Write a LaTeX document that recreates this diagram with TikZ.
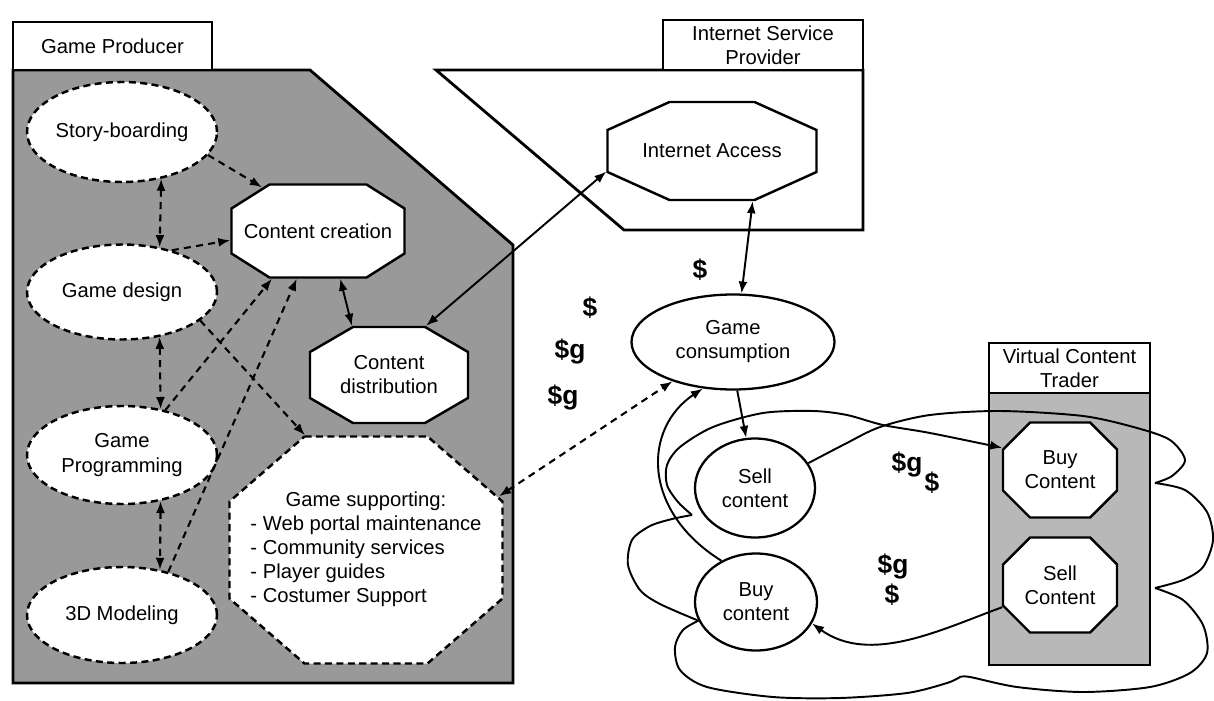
\documentclass[tikz,border=0pt]{standalone}
\usepackage{fontspec}
\setmainfont{Liberation Sans}
\usetikzlibrary{shapes.geometric, arrows, arrows.meta}

\makeatletter
\pgfkeys{/pgf/octagon xcut/.initial=5mm, /pgf/octagon ycut/.initial=5mm}
\pgfdeclareshape{octagonbox}{%
  \inheritsavedanchors[from=rectangle]
  \inheritanchor[from=rectangle]{center}
  \inheritanchor[from=rectangle]{north}
  \inheritanchor[from=rectangle]{south}
  \inheritanchor[from=rectangle]{east}
  \inheritanchor[from=rectangle]{west}
  \savedmacro\octcutx{\pgfmathsetlength\pgf@xa{\pgfkeysvalueof{/pgf/octagon xcut}}\edef\octcutx{\the\pgf@xa}}
  \savedmacro\octcuty{\pgfmathsetlength\pgf@ya{\pgfkeysvalueof{/pgf/octagon ycut}}\edef\octcuty{\the\pgf@ya}}
  \backgroundpath{%
    \southwest \pgf@xa=\pgf@x \pgf@ya=\pgf@y
    \northeast \pgf@xb=\pgf@x \pgf@yb=\pgf@y
    \pgfmathsetlength\pgf@xc{\pgfkeysvalueof{/pgf/outer xsep}}%
    \pgfmathsetlength\pgf@yc{\pgfkeysvalueof{/pgf/outer ysep}}%
    \advance\pgf@xa by\pgf@xc \advance\pgf@ya by\pgf@yc
    \advance\pgf@xb by-\pgf@xc \advance\pgf@yb by-\pgf@yc
    \edef\octL{\the\pgf@xa}\edef\octB{\the\pgf@ya}%
    \edef\octR{\the\pgf@xb}\edef\octT{\the\pgf@yb}%
    \pgfpathmoveto{\pgfpoint{\octL+\octcutx}{\octT}}%
    \pgfpathlineto{\pgfpoint{\octR-\octcutx}{\octT}}%
    \pgfpathlineto{\pgfpoint{\octR}{\octT-\octcuty}}%
    \pgfpathlineto{\pgfpoint{\octR}{\octB+\octcuty}}%
    \pgfpathlineto{\pgfpoint{\octR-\octcutx}{\octB}}%
    \pgfpathlineto{\pgfpoint{\octL+\octcutx}{\octB}}%
    \pgfpathlineto{\pgfpoint{\octL}{\octB+\octcuty}}%
    \pgfpathlineto{\pgfpoint{\octL}{\octT-\octcuty}}%
    \pgfpathclose
  }
  \anchorborder{%
    \edef\octdx{\the\pgf@x}\edef\octdy{\the\pgf@y}%
    \southwest \pgf@xa=\pgf@x \pgf@ya=\pgf@y
    \northeast \pgf@xb=\pgf@x \pgf@yb=\pgf@y
    \edef\octmx{\the\dimexpr(\pgf@xa+\pgf@xb)/2\relax}%
    \edef\octmy{\the\dimexpr(\pgf@ya+\pgf@yb)/2\relax}%
    \edef\octW{\the\dimexpr(\pgf@xb-\pgf@xa)/2\relax}%
    \edef\octH{\the\dimexpr(\pgf@yb-\pgf@ya)/2\relax}%
    \pgfmathsetmacro\octax{max(abs(\octdx),0.0001)}%
    \pgfmathsetmacro\octay{max(abs(\octdy),0.0001)}%
    \pgfmathsetmacro\octt{min(min(\octW/\octax,\octH/\octay),(\octcuty*\octW+\octcutx*\octH-\octcutx*\octcuty)/(\octcuty*\octax+\octcutx*\octay))}%
    \pgfmathsetlength\pgf@xc{\octmx+\octt*\octdx}%
    \pgfmathsetlength\pgf@yc{\octmy+\octt*\octdy}%
    \pgf@x=\pgf@xc \pgf@y=\pgf@yc
  }
}
\makeatother

\begin{document}
\begin{tikzpicture}[x=0.2mm, y=-0.2mm,
    font=\fontsize{11.5}{13.7}\selectfont,
    tab/.style={draw, line width=1.4pt, fill=white, inner sep=0pt, align=center},
    task/.style={draw, ellipse, dash pattern=on 4pt off 2.5pt, line width=1.4pt, fill=white, inner sep=0pt, align=center},
    octa/.style={draw, octagonbox, line width=1.4pt, fill=white, inner sep=0pt, align=center},
    oval/.style={draw, ellipse, line width=1.3pt, fill=white, inner sep=0pt, align=center},
    money/.style={font=\fontsize{15}{15}\selectfont\bfseries, inner sep=0pt},
    link/.style={>={Latex[length=2.4mm,width=1.8mm]}, line width=1.1pt},
    dlink/.style={>={Latex[length=2.4mm,width=1.8mm]}, line width=1.2pt, dash pattern=on 4pt off 3pt}]
\useasboundingbox (0,0) rectangle (1214,701);

\draw[line width=1.6pt, fill=black!40] (13,70) -- (310,70) -- (513,245) -- (513,683) -- (13,683) -- cycle;
\draw[line width=1.6pt, fill=white] (436,70) -- (863,70) -- (863,230) -- (624,230) -- cycle;
\draw[line width=1.6pt, fill=black!28] (989,393) rectangle (1150,665);

\node[tab, minimum width=39.8mm, minimum height=9.6mm] (producer) at (112.5,46) {Game Producer};
\node[tab, minimum width=40mm, minimum height=10mm] (isp) at (763,45) {Internet Service\\Provider};
\node[tab, minimum width=32.2mm, minimum height=10mm] (trader) at (1069.5,368) {Virtual Content\\Trader};

\node[task, minimum width=38mm, minimum height=20mm] (storyboarding) at (122,132) {Story-boarding};
\node[task, minimum width=38mm, minimum height=19mm] (gamedesign) at (122,292) {Game design};
\node[task, minimum width=38mm, minimum height=19.6mm] (gameprogramming) at (122,455) {Game\\Programming};
\node[task, minimum width=38mm, minimum height=19.2mm] (modeling) at (122,615) {3D Modeling};

\node[octa, minimum width=34.6mm, minimum height=18.6mm, octagon xcut=7.6mm, octagon ycut=4.8mm] (contentcreation) at (318,231) {Content creation};
\node[octa, minimum width=31.6mm, minimum height=19.2mm, octagon xcut=8.6mm, octagon ycut=5mm] (contentdistribution) at (389,375) {Content\\distribution};
\node[octa, dash pattern=on 4pt off 2.5pt, minimum width=54.6mm, minimum height=45.4mm, octagon xcut=15mm, octagon ycut=13mm] (gamesupport) at (366,550) {\begin{tabular}{@{}l@{}}\multicolumn{1}{@{}c@{}}{Game supporting:}\\- Web portal maintenance\\- Community services\\- Player guides\\- Costumer Support\end{tabular}};
\node[octa, minimum width=41.8mm, minimum height=19.6mm, octagon xcut=12.4mm, octagon ycut=5.6mm] (internetaccess) at (712,151) {Internet Access};

\node[oval, minimum width=40.6mm, minimum height=19mm] (gameconsumption) at (733,342) {Game\\consumption};
\node[oval, minimum width=24mm, minimum height=19.8mm] (sellcontent) at (755,488) {Sell\\content};
\node[oval, minimum width=24.4mm, minimum height=19.4mm] (buycontent) at (756,602) {Buy\\content};

\node[octa, minimum width=22.8mm, minimum height=19mm, octagon xcut=5.4mm, octagon ycut=5.4mm] (buycontentT) at (1060,470) {Buy\\Content};
\node[octa, minimum width=22.8mm, minimum height=19mm, octagon xcut=5.4mm, octagon ycut=5.4mm] (sellcontentT) at (1060,585) {Sell\\Content};

\coordinate (loopstart) at (692,515);

\node[money] (dollarisp) at (700,270) {\$};
\node[money] (dollarone) at (590,308) {\$};
\node[money] (moneyone) at (570,352) {\$g};
\node[money] (moneytwo) at (563,398) {\$g};
\node[money] (moneythree) at (907,465) {\$g};
\node[money] (dollartwo) at (932,483) {\$};
\node[money] (moneyfour) at (893,567) {\$g};
\node[money] (dollarthree) at (892,595) {\$};

\draw[dlink, <->] (storyboarding.-50) -- (gamedesign.50);
\draw[dlink, <->] (gamedesign.-50) -- (gameprogramming.50);
\draw[dlink, <->] (gameprogramming.-50) -- (modeling.50);
\draw[dlink, ->] (storyboarding.-15) -- (contentcreation.142);
\draw[dlink, ->] (gamedesign.40) -- (contentcreation.186);
\draw[dlink, ->] (gameprogramming.46) -- (contentcreation.-134);
\draw[dlink, ->] (modeling.43) -- (contentcreation.-114);
\draw[dlink, ->] (gamedesign.-20) -- (gamesupport.118);
\draw[dlink, <->] (gamesupport.22) -- (gameconsumption.-147);

\draw[link, <->] (contentcreation.-65) -- (contentdistribution.127);
\draw[link, <->] (contentdistribution.53) -- (internetaccess.191);
\draw[link, <->] (internetaccess.-51) -- (gameconsumption.80);
\draw[link, ->] (gameconsumption.-85) -- (sellcontent.100);
\draw[link, ->] (buycontent.130) .. controls +(-80,-50) and +(-60,40) .. (gameconsumption.-123);
\draw[link, ->] (sellcontentT.201) .. controls (940,630) and (870,665) .. (buycontent.-21);

\draw[link] plot[smooth] coordinates {(sellcontent.25) (845,444) (880,427) (930,415) (1000,411) (1083,416) (1137,428) (1170,440) (1185,460) (1172,476) (1155,483)}
  plot[smooth] coordinates {(1155,483) (1185,490) (1207,512) (1213,540) (1203,567) (1183,580) (1155,588)}
  plot[smooth] coordinates {(1155,588) (1183,600) (1203,625) (1207,653) (1190,673) (1150,687) (1083,692) (1017,687) (970,677) (960,677)}
  plot[smooth] coordinates {(960,677) (947,683) (907,693) (840,698) (773,697) (707,687) (680,670) (675,647) (683,630) (buycontent.198)};
\draw[link] plot[smooth] coordinates {(buycontent.198) (660,604) (640,590) (628,565) (632,540) (650,526) (672,519) (loopstart)};
\draw[link, ->] plot[smooth] coordinates {(loopstart) (678,502) (667,485) (667,465) (680,447) (713,427) (763,413) (813,411) (847,415) (883,425) (930,433) (buycontentT.159)};
\end{tikzpicture}
\end{document}
